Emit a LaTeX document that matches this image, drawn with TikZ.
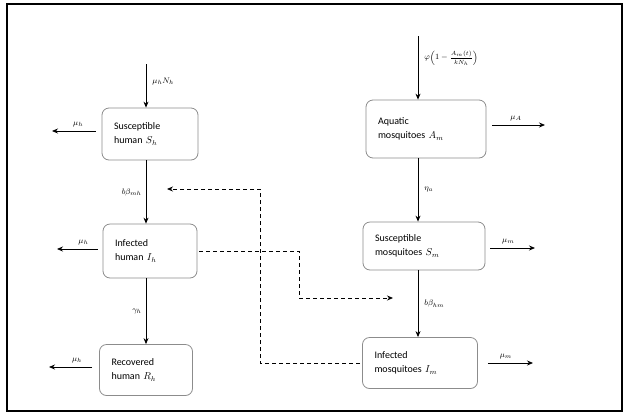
\documentclass[tikz,border=0pt]{standalone}
\usepackage{amsmath}
\usepackage{fontspec}
\setmainfont{Carlito}
\usetikzlibrary{arrows.meta}
\begin{document}
\begin{tikzpicture}[x=1pt,y=-1pt,
  box/.style={draw=black!45, line width=0.8pt, rounded corners=7pt, align=left,
    inner sep=0pt, font=\fontsize{10}{14}\selectfont},
  arr/.style={-{Stealth[length=6pt,width=5pt]}, line width=0.8pt},
  darr/.style={arr, dash pattern=on 4pt off 3pt},
  lab/.style={font=\fontsize{8}{9}\selectfont, inner sep=1pt}]
\useasboundingbox (0,0) rectangle (624,416);
\draw[line width=2pt] (7,4) rectangle (622,411);

% boxes
\node[box, minimum width=96pt, minimum height=52pt, text width=72pt] (Sh) at (150,134) {Susceptible\\human $S_h$};
\node[box, minimum width=94pt, minimum height=54pt, text width=70pt] (Ih) at (150,251) {Infected\\human $I_h$};
\node[box, minimum width=93pt, minimum height=51pt, text width=69pt] (Rh) at (146,370) {Recovered\\human $R_h$};
\node[box, minimum width=120pt, minimum height=58pt, text width=96pt] (Am) at (426,129) {Aquatic\\mosquitoes $A_m$};
\node[box, minimum width=122pt, minimum height=48pt, text width=98pt] (Sm) at (424,246) {Susceptible\\mosquitoes $S_m$};
\node[box, minimum width=115pt, minimum height=51pt, text width=91pt] (Im) at (420,363) {Infected\\mosquitoes $I_m$};

% coordinates for free ends
\coordinate (t1) at (146,64);
\coordinate (t2) at (418,36);
\coordinate (l1) at (52,131);
\coordinate (l2) at (57,249);
\coordinate (l3) at (49,367);
\coordinate (r1) at (545,125);
\coordinate (r2) at (535,248);
\coordinate (r3) at (533,363);
\coordinate (d1) at (299,298);
\coordinate (d2) at (393,298);
\coordinate (d3) at (260,189);
\coordinate (d4) at (167,189);

% human chain
\draw[arr] (t1) -- (t1 |- Sh.north) node[lab, pos=0.4, right=5pt] {$\mu_h N_h$};
\draw[arr] (Sh.south -| t1) -- (Ih.north -| t1) node[lab, midway, left=3pt] {$b\beta_{mh}$};
\draw[arr] (Ih.south -| t1) -- (Rh.north -| t1) node[lab, midway, left=3pt] {$\gamma_h$};
\draw[arr] ([xshift=-6pt]Sh.west |- l1) -- (l1) node[lab, pos=0.4, above=3pt] {$\mu_h$};
\draw[arr] ([xshift=-5pt]Ih.west |- l2) -- (l2) node[lab, pos=0.35, above=3pt] {$\mu_h$};
\draw[arr] ([xshift=-7pt]Rh.west |- l3) -- (l3) node[lab, pos=0.35, above=3pt] {$\mu_h$};

% mosquito chain
\draw[arr] (t2) -- (t2 |- Am.north) node[lab, pos=0.35, right=5pt] {$\varphi\Bigl(1-\genfrac{}{}{0.4pt}{}{A_m(t)\rule[-1.2pt]{0pt}{1pt}}{\rule{0pt}{6pt}kN_h}\Bigr)$};
\draw[arr] (Am.south -| t2) -- (Sm.north -| t2) node[lab, midway, right=5pt] {$\eta_a$};
\draw[arr] (Sm.south -| t2) -- (Im.north -| t2) node[lab, midway, right=5pt] {$b\beta_{hm}$};
\draw[arr] ([xshift=6pt]Am.east |- r1) -- (r1) node[lab, pos=0.45, above=3pt] {$\mu_A$};
\draw[arr] ([xshift=5pt]Sm.east |- r2) -- (r2) node[lab, pos=0.4, above=3pt] {$\mu_m$};
\draw[arr] ([xshift=10pt]Im.east |- r3) -- (r3) node[lab, pos=0.4, above=3pt] {$\mu_m$};

% dashed interactions
\draw[darr] ([xshift=2pt]Ih.east) -| (d1) -- (d2);
\draw[darr] ([xshift=-2pt]Im.west) -| (d3) -- (d4);
\end{tikzpicture}
\end{document}
